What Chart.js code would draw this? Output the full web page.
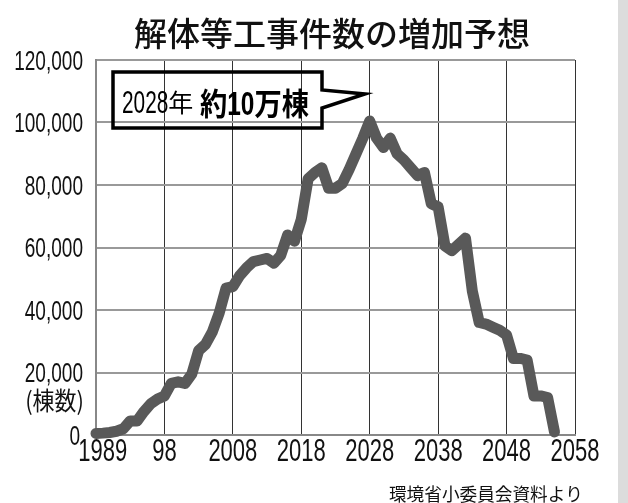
<!DOCTYPE html>
<html>
<head>
<meta charset="utf-8">
<script src="https://cdn.jsdelivr.net/npm/chart.js@4/dist/chart.umd.min.js"></script>
<style>
    body { margin: 0; background: #fff; }
    #wrap { width: 628px; height: 503px; }
</style>
</head>
<body>
<div id="wrap"><canvas id="demolitionChart" width="628" height="503"></canvas></div>
<script>
// Years and demolition counts (棟数)
const years = [
    1988, 1989, 1990, 1991, 1992, 1993, 1994, 1995, 1996, 1997,
    1998, 1999, 2000, 2001, 2002, 2003, 2004, 2005, 2006, 2007,
    2008, 2009, 2010, 2011, 2012, 2013, 2014, 2015, 2016, 2017,
    2018, 2019, 2020, 2021, 2022, 2023, 2024, 2025, 2026, 2027,
    2028, 2029, 2030, 2031, 2032, 2033, 2034, 2035, 2036, 2037,
    2038, 2039, 2040, 2041, 2042, 2043, 2044, 2045, 2046, 2047,
    2048, 2049, 2050, 2051, 2052, 2053, 2054, 2055
];
const counts = [
    500, 600, 800, 1200, 2000, 4500, 4500, 7500, 10000, 11500,
    12500, 16500, 17000, 16500, 19500, 27000, 29000, 33000, 39000, 47000,
    47500, 51000, 53500, 55500, 56000, 56500, 55000, 57500, 64000, 62000,
    69000, 82000, 84000, 85500, 79000, 79000, 80500, 85000, 90000, 95000,
    100500, 95000, 92000, 95000, 90000, 88000, 85500, 83000, 84000, 74000,
    73000, 60500, 59000, 61000, 63000, 46000, 36000, 35500, 34500, 33500,
    32000, 24500, 24500, 24000, 12500, 12500, 12000, 1000
];

// Tick positions and labels
const xTickValues = [1989, 1998, 2008, 2018, 2028, 2038, 2048, 2058];
const xTickLabels = ['1989', '98', '2008', '2018', '2028', '2038', '2048', '2058'];
const yTickValues = [0, 20000, 40000, 60000, 80000, 100000, 120000];

const titleText = '解体等工事件数の増加予想';
const sourceText = '環境省小委員会資料より';
const unitText = '(棟数)';

const SANS = '"Liberation Sans", Arial, sans-serif';
const JP = '"Noto Sans CJK JP", sans-serif';

// No condensed font installed, so squeeze text horizontally by hand
function drawSqueezed(ctx, text, x, y, font, sx, align) {
    ctx.save();
    ctx.font = font;
    const w = ctx.measureText(text).width * sx;
    let left = x;
    if (align === 'right') left = x - w;
    if (align === 'center') left = x - w / 2;
    ctx.translate(left, y);
    ctx.scale(sx, 1);
    ctx.textAlign = 'left';
    ctx.fillText(text, 0, 0);
    ctx.restore();
    return w;
}

const decorPlugin = {
    id: 'decor',
    beforeDraw(chart) {
        const ctx = chart.ctx;
        ctx.save();
        ctx.fillStyle = '#ffffff';
        ctx.fillRect(0, 0, chart.width, chart.height);
        ctx.fillStyle = '#dcdcdc';
        ctx.fillRect(618, 0, chart.width - 618, chart.height);
        ctx.restore();
    },
    afterDraw(chart) {
        const ctx = chart.ctx;
        const xs = chart.scales.x;
        const ys = chart.scales.y;
        ctx.save();
        ctx.fillStyle = '#111';
        ctx.textBaseline = 'alphabetic';

        // tick labels, placed with the chart's own scales
        ys.ticks.forEach(t => {
            const py = ys.getPixelForValue(t.value);
            const right = t.value === 0 ? 80 : 83;
            drawSqueezed(ctx, t.label, right, py + 9.8, '28px ' + SANS, 0.68, 'right');
        });
        xs.ticks.forEach(t => {
            const px = xs.getPixelForValue(t.value);
            drawSqueezed(ctx, t.label, px, 461, '31px ' + SANS, 0.71, 'center');
        });

        ctx.textBaseline = 'middle';
        ctx.textAlign = 'center';
        ctx.font = '500 33px ' + JP;
        ctx.fillText(titleText, 332, 33);

        drawSqueezed(ctx, unitText, 84, 400, '25px ' + JP, 0.88, 'right');
        drawSqueezed(ctx, sourceText, 583, 494, '18px ' + JP, 0.98, 'right');

        // Callout box with pointer towards the 2028 peak
        ctx.beginPath();
        ctx.moveTo(113, 72);
        ctx.lineTo(322, 72);
        ctx.lineTo(322, 90);
        ctx.lineTo(365, 94);
        ctx.lineTo(322, 108);
        ctx.lineTo(322, 128);
        ctx.lineTo(113, 128);
        ctx.closePath();
        ctx.lineWidth = 3.5;
        ctx.strokeStyle = '#000';
        ctx.lineJoin = 'miter';
        ctx.stroke();

        ctx.fillStyle = '#000';
        ctx.textBaseline = 'alphabetic';
        let x = 122;
        x += drawSqueezed(ctx, '2028', x, 113, '32px ' + SANS, 0.65, 'left');
        drawSqueezed(ctx, '年', x, 112, '25px ' + JP, 1, 'left');
        x = 200;
        x += drawSqueezed(ctx, '約', x, 115, 'bold 31px ' + JP, 0.88, 'left');
        x += drawSqueezed(ctx, '10', x, 115, 'bold 33px ' + SANS, 0.74, 'left');
        drawSqueezed(ctx, '万棟', x, 115, 'bold 31px ' + JP, 0.88, 'left');
        ctx.restore();
    }
};

const ctx = document.getElementById('demolitionChart').getContext('2d');
const demolitionChart = new Chart(ctx, {
    type: 'line',
    data: {
        datasets: [{
            label: '解体等工事件数',
            data: years.map((yr, i) => ({ x: yr, y: counts[i] })),
            borderColor: '#595959',
            borderWidth: 11,
            borderCapStyle: 'round',
            borderJoinStyle: 'round',
            pointRadius: 0,
            tension: 0,
            fill: false,
            clip: false
        }]
    },
    options: {
        responsive: false,
        animation: false,
        layout: {
            padding: { top: 60, right: 53, left: 0, bottom: 0 }
        },
        plugins: {
            legend: { display: false },
            title: { display: false },
            tooltip: { enabled: false }
        },
        scales: {
            x: {
                type: 'linear',
                min: 1988,
                max: 2058,
                afterBuildTicks: axis => {
                    axis.ticks = xTickValues.map(v => ({ value: v }));
                },
                afterFit: axis => { axis.height = 68; },
                border: { display: true, color: '#888', width: 2 },
                grid: {
                    drawTicks: false,
                    lineWidth: 1,
                    color: c => (c.tick && c.tick.value === 1989) ? 'rgba(0,0,0,0)' : '#333'
                },
                ticks: {
                    maxRotation: 0,
                    autoSkip: false,
                    color: 'rgba(0,0,0,0)',
                    font: { size: 12 },
                    callback: v => xTickLabels[xTickValues.indexOf(v)]
                }
            },
            y: {
                min: 0,
                max: 120000,
                afterBuildTicks: axis => {
                    axis.ticks = yTickValues.map(v => ({ value: v }));
                },
                afterFit: axis => { axis.width = 96; },
                border: { display: true, color: '#888', width: 2 },
                grid: {
                    drawTicks: false,
                    lineWidth: 2,
                    color: '#999'
                },
                ticks: {
                    color: 'rgba(0,0,0,0)',
                    font: { size: 12 },
                    callback: v => v === 0 ? '0' : v.toLocaleString('en-US')
                }
            }
        }
    },
    plugins: [decorPlugin]
});
</script>
</body>
</html>
